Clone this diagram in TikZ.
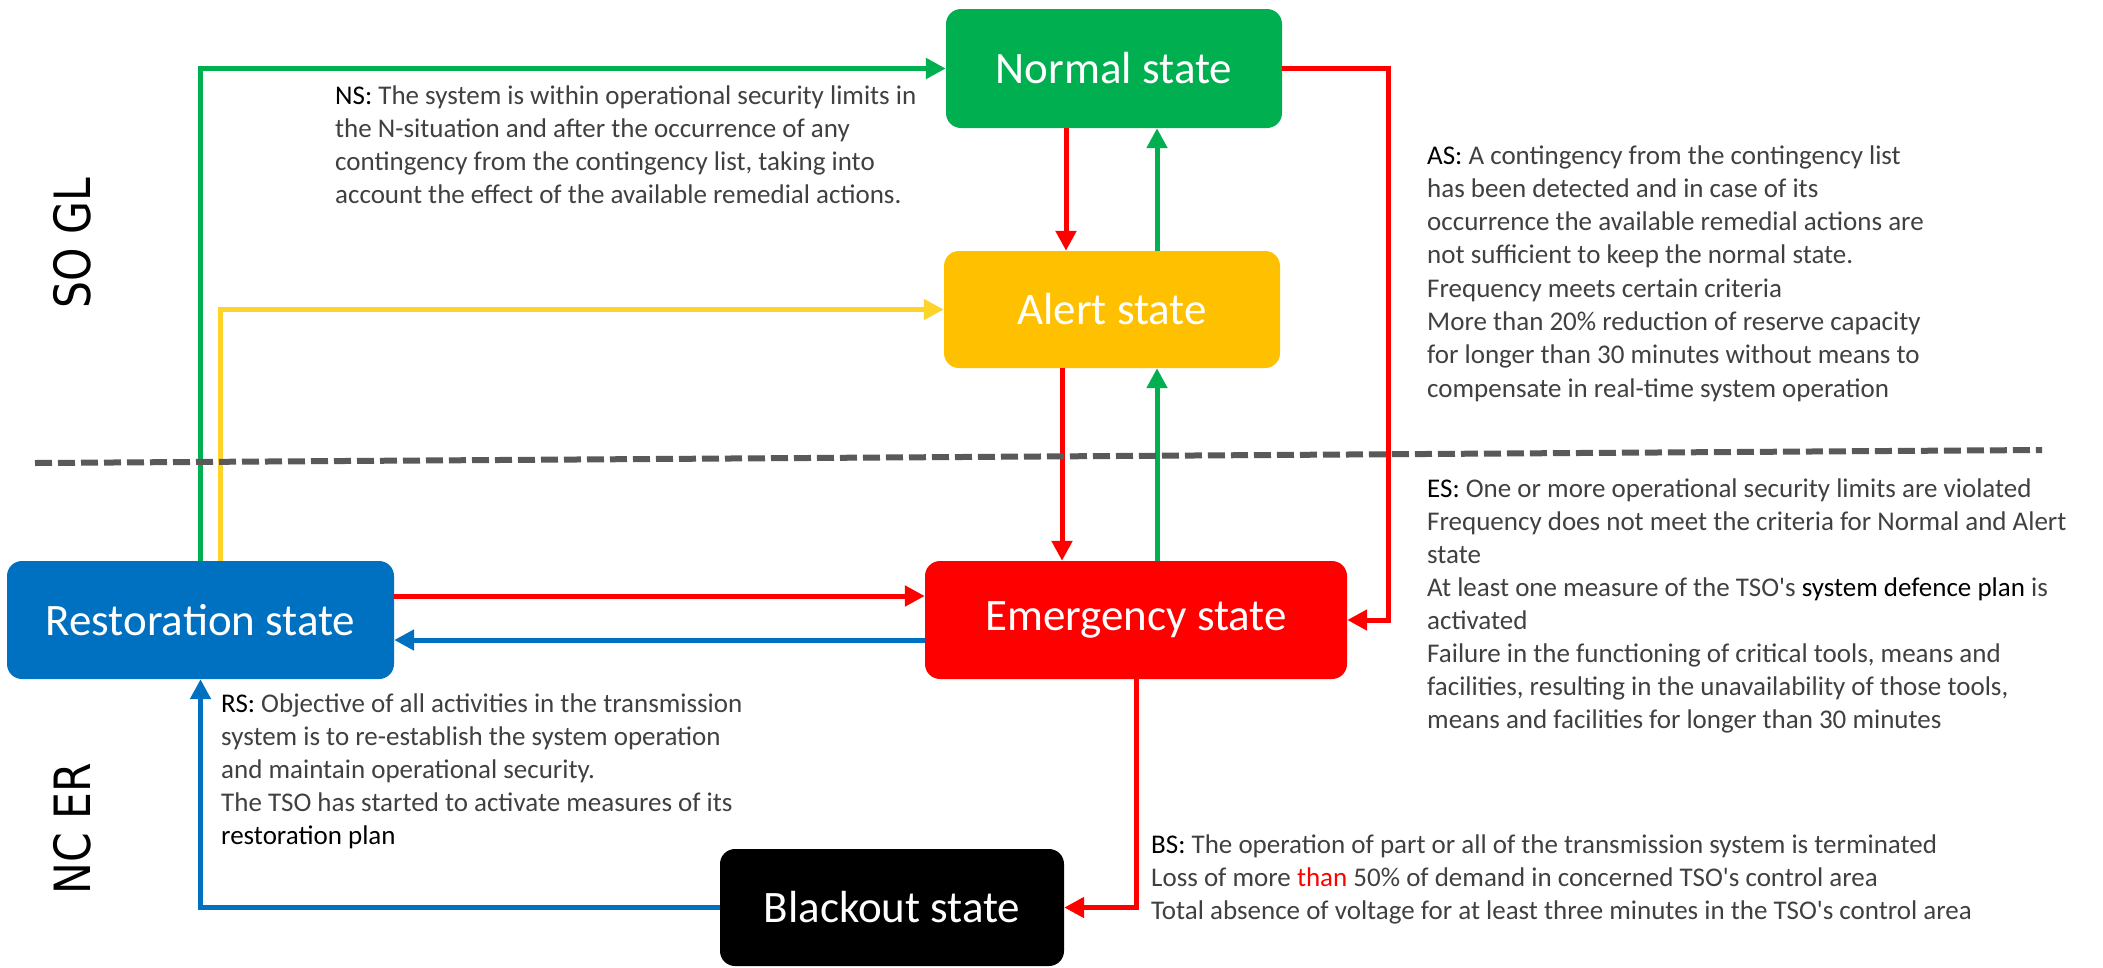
\documentclass[tikz,border=0pt]{standalone}
\usepackage{fontspec}
\usepackage{graphicx}
\setmainfont{Carlito}
\newfontfamily\sidefont{DejaVu Sans}
\usetikzlibrary{arrows.meta}
\definecolor{cgreen}{HTML}{00B050}
\definecolor{cyellow}{HTML}{FFC000}
\definecolor{cyline}{HTML}{FFD42A}
\definecolor{cred}{HTML}{FF0000}
\definecolor{cblue}{HTML}{0070C0}
\definecolor{cgray}{HTML}{595959}
\definecolor{ctext}{HTML}{404040}
\newcommand\hlk[1]{\textcolor{black}{#1}}
\newcommand\sq{{\XeTeXglyph\XeTeXcharglyph"27\relax}}
\begin{document}
\begin{tikzpicture}[x=1pt,y=-1pt,
  statebox/.style={rounded corners=15pt, inner sep=0pt, text=white,
    font=\fontsize{45}{54}\selectfont},
  conn/.style={line width=5pt, -{Triangle[length=20pt,width=20pt]}},
  desc/.style={anchor=base west, inner sep=0pt, text=ctext,
    font=\fontsize{27}{33}\selectfont},
  side/.style={rotate=90, inner sep=0pt, font=\sidefont\fontsize{50}{60}\selectfont}
]
\useasboundingbox (0,0) rectangle (2103,967);

% state boxes
\node[statebox, fill=cgreen, minimum width=336pt, minimum height=119pt] (normal) at (1114,68.5) {Normal state};
\node[statebox, fill=cyellow, minimum width=336pt, minimum height=117pt] (alert) at (1112,309.5) {Alert state};
\node[statebox, fill=cred, minimum width=422pt, minimum height=118pt] (emergency) at (1136,620) {Emergency state};
\node[statebox, fill=cblue, minimum width=387pt, minimum height=118pt] (restoration) at (200.5,620) {Restoration state};
\node[statebox, fill=black, minimum width=344pt, minimum height=117pt] (blackout) at (892,907.5) {Blackout state};

% connectors
\draw[conn, cgreen] (restoration.north) |- (normal.west);
\draw[conn, cyline] (220,0 |- restoration.north) |- (alert.west);
\draw[conn, cred] (1066,0 |- normal.south) -- (1066,0 |- alert.north);
\draw[conn, cgreen] (1157,0 |- alert.north) -- (1157,0 |- normal.south);
\draw[conn, cred] (1062,0 |- alert.south) -- (1062,0 |- emergency.north);
\draw[conn, cgreen] (1157,0 |- emergency.north) -- (1157,0 |- alert.south);
\draw[conn, cred] (normal.east) -- (1388,0 |- normal.east) |- (emergency.east);
\draw[conn, cred] (restoration.east |- 0,596) -- (emergency.west |- 0,596);
\draw[conn, cblue] (emergency.west |- 0,640) -- (restoration.east |- 0,640);
\draw[conn, cred] (emergency.south) |- (blackout.east);
\draw[conn, cblue] (blackout.west) -| (restoration.south);

% separator
\draw[cgray, line width=6pt, dash pattern=on 17pt off 6pt] (35,463) -- (2042,450);

% side labels
\node[side] (sogl) at (72,243) {\scalebox{0.85}[1]{SO GL}};
\node[side] (ncer) at (72,829) {\scalebox{0.85}[1]{NC ER}};

% descriptions
\foreach \t [count=\i from 0] in {
  {\hlk{NS:} The system is within operational security limits in},
  {the N-situation and after the occurrence of any},
  {contingency from the contingency list, taking into},
  {account the effect of the available remedial actions.}}
  \node[desc] (ns\i) at (335,104+33*\i) {\t};

\foreach \t [count=\i from 0] in {
  {\hlk{AS:} A contingency from the contingency list},
  {has been detected and in case of its},
  {occurrence the available remedial actions are},
  {not sufficient to keep the normal state.},
  {Frequency meets certain criteria},
  {More than 20\% reduction of reserve capacity},
  {for longer than 30 minutes without means to},
  {compensate in real-time system operation}}
  \node[desc] (as\i) at (1427,164+33.3*\i) {\t};

\foreach \t [count=\i from 0] in {
  {\hlk{ES:} One or more operational security limits are violated},
  {Frequency does not meet the criteria for Normal and Alert},
  {state},
  {At least one measure of the TSO\sq s \hlk{system defence plan} is},
  {activated},
  {Failure in the functioning of critical tools, means and},
  {facilities, resulting in the unavailability of those tools,},
  {means and facilities for longer than 30 minutes}}
  \node[desc] (es\i) at (1427,497+33*\i) {\t};

\foreach \t [count=\i from 0] in {
  {\hlk{BS:} The operation of part or all of the transmission system is terminated},
  {Loss of more \textcolor{cred}{than} 50\% of demand in concerned TSO\sq s control area},
  {Total absence of voltage for at least three minutes in the TSO\sq s control area}}
  \node[desc] (bs\i) at (1151,853+33*\i) {\t};

\foreach \t [count=\i from 0] in {
  {\hlk{RS:} Objective of all activities in the transmission},
  {system is to re-establish the system operation},
  {and maintain operational security.},
  {The TSO has started to activate measures of its},
  {\hlk{restoration plan}}}
  \node[desc] (rs\i) at (221,712+33*\i) {\t};
\end{tikzpicture}
\end{document}
